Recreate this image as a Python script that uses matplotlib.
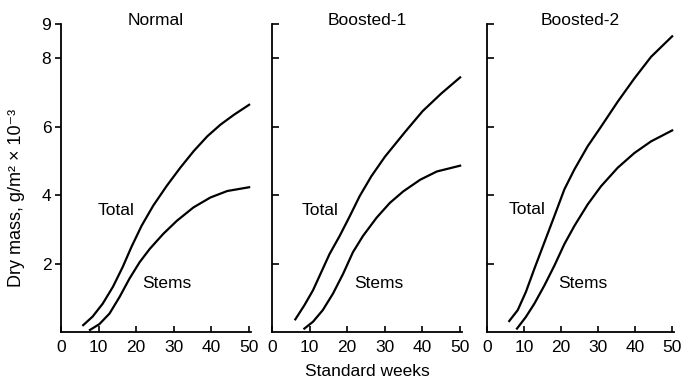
import matplotlib.pyplot as plt

plt.rcParams['font.family'] = ['Liberation Sans', 'DejaVu Sans']

# weeks and dry mass (g/m^2 x 10^-3)
titles = ['Normal', 'Boosted-1', 'Boosted-2']

total_weeks = [
    [5.9, 8.4, 11.1, 13.8, 16.4, 18.7, 21.4, 24.5, 28.1, 31.7, 35.3, 38.9, 42.4, 46, 50],
    [6.2, 8.6, 10.9, 13.1, 15.3, 18, 20.7, 23.3, 26.4, 30, 35.4, 40, 45, 50],
    [6, 8.3, 10.5, 12.8, 15.5, 18.2, 20.9, 23.6, 27.2, 30.8, 35.3, 39.8, 44.3, 50],
]
total_mass = [
    [0.2, 0.45, 0.83, 1.32, 1.9, 2.48, 3.1, 3.69, 4.27, 4.8, 5.29, 5.72, 6.06, 6.35, 6.64],
    [0.37, 0.78, 1.22, 1.75, 2.28, 2.81, 3.39, 3.97, 4.55, 5.12, 5.85, 6.45, 6.97, 7.44],
    [0.32, 0.64, 1.17, 1.85, 2.62, 3.39, 4.17, 4.75, 5.43, 6.0, 6.73, 7.41, 8.04, 8.64],
]
stems_weeks = [
    [7.7, 10.2, 12.9, 15.6, 18.2, 20.9, 23.6, 27.2, 30.8, 35.2, 39.7, 44.2, 50],
    [8.6, 10.9, 13.5, 16.2, 18.9, 21.5, 24.2, 27.8, 31.3, 34.9, 39.4, 43.8, 50],
    [8.1, 10.5, 12.8, 15.5, 18.2, 20.9, 23.6, 27.2, 30.8, 35.3, 39.8, 44.3, 50],
]
stems_mass = [
    [0.06, 0.23, 0.54, 1.03, 1.56, 2.04, 2.43, 2.87, 3.25, 3.64, 3.93, 4.12, 4.23],
    [0.1, 0.3, 0.64, 1.12, 1.7, 2.33, 2.81, 3.34, 3.77, 4.11, 4.45, 4.69, 4.86],
    [0.1, 0.44, 0.83, 1.36, 1.94, 2.57, 3.1, 3.73, 4.26, 4.8, 5.23, 5.57, 5.89],
]

# label positions (week, mass)
total_label = [(14.7, 3.54), (12.8, 3.54), (10.9, 3.57)]
stems_label = [(28, 1.43), (28.3, 1.43), (26, 1.43)]

xticks = [0, 10, 20, 30, 40, 50]
yticks = [2, 4, 6, 8, 9]

fig = plt.figure(figsize=(6.81, 3.81), dpi=100)
lefts = [61 / 681, 272 / 681, 487 / 681]
widths = [190 / 681, 190 / 681, 187 / 681]
fs = 12.5

for i in range(3):
    ax = fig.add_axes([lefts[i], 49 / 381, widths[i], 308 / 381])
    ax.plot(total_weeks[i], total_mass[i], color='black', lw=1.6)
    ax.plot(stems_weeks[i], stems_mass[i], color='black', lw=1.6)
    ax.text(*total_label[i], 'Total', fontsize=fs, ha='center', va='center')
    ax.text(*stems_label[i], 'Stems', fontsize=fs, ha='center', va='center')
    ax.text(0.5, 1.01, titles[i], transform=ax.transAxes, fontsize=fs,
            ha='center', va='center')
    ax.set_xlim(0, 50.5)
    ax.set_ylim(0, 9)
    ax.spines['top'].set_visible(False)
    ax.spines['right'].set_visible(False)
    ax.spines['left'].set_linewidth(1.3)
    ax.spines['bottom'].set_linewidth(1.3)
    ax.set_xticks(xticks)
    ax.set_xticklabels([str(t) for t in xticks], fontsize=fs)
    ax.tick_params(axis='x', direction='in', length=4, width=1.2, pad=6)
    ax.set_yticks(yticks)
    if i == 0:
        ax.set_yticklabels([str(t) for t in yticks], fontsize=fs)
        ax.tick_params(axis='y', direction='out', length=4, width=1.2, pad=3)
        ax.set_ylabel('Dry mass, g/m² × 10⁻³', fontsize=13)
        ax.yaxis.set_label_coords(-0.19, 0.435)
    else:
        ax.set_yticklabels([])
        ax.tick_params(axis='y', direction='in', length=5, width=1.2)
    if i == 1:
        ax.set_xlabel('Standard weeks', fontsize=fs, labelpad=6)

fig.savefig('out.png', dpi=100)
